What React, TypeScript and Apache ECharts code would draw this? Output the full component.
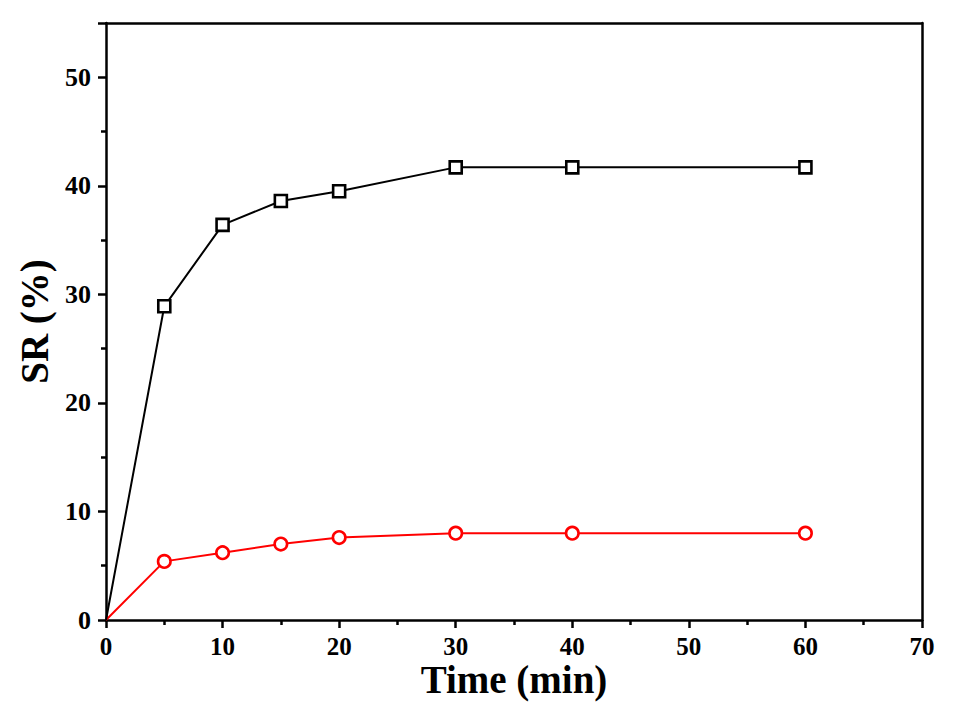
import React, { useEffect, useRef } from "react";
import * as echarts from "echarts";

const timeMin = [0, 5, 10, 15, 20, 30, 40, 60];
const seriesBlack = [0, 28.9, 36.4, 38.6, 39.5, 41.7, 41.7, 41.7];
const seriesRed = [0, 5.4, 6.2, 7.0, 7.6, 8.0, 8.0, 8.0];
const xTicks = [0, 10, 20, 30, 40, 50, 60, 70];
const yTicks = [0, 10, 20, 30, 40, 50];

const FONT = "'Liberation Serif', 'Times New Roman', serif";

export default function App() {
  const ref = useRef<HTMLDivElement>(null);
  useEffect(() => {
    if (!ref.current) return;
    const chart = echarts.init(ref.current, null, { renderer: "svg" });
    const axisLabel = {
      fontFamily: FONT,
      fontWeight: "bold" as const,
      fontSize: 26,
      color: "#000",
    };
    const toData = (vals: number[]) =>
      timeMin.map((t, i) =>
        i === 0 ? { value: [t, vals[i]], symbol: "none" } : { value: [t, vals[i]] }
      );
    chart.setOption({
      animation: false,
      backgroundColor: "#fff",
      grid: { left: 106, right: 33, top: 23, bottom: 95, containLabel: false },
      xAxis: [
        {
          type: "value",
          min: xTicks[0],
          max: xTicks[xTicks.length - 1],
          interval: 10,
          name: "Time (min)",
          nameLocation: "middle",
          nameGap: 44,
          nameMoveOverlap: false,
          nameTextStyle: { fontFamily: FONT, fontWeight: "bold", fontSize: 39, lineHeight: 30, color: "#000" },
          axisLine: { show: true, onZero: false, lineStyle: { color: "#000", width: 2.5 } },
          axisTick: { show: true, inside: false, length: 8, lineStyle: { color: "#000", width: 2.5 } },
          minorTick: { show: true, splitNumber: 2, length: 5, lineStyle: { color: "#000", width: 2.5 } },
          axisLabel: { ...axisLabel, fontSize: 25, lineHeight: 22, margin: 15 },
          splitLine: { show: false },
        },
        {
          type: "value",
          position: "top",
          min: 0,
          max: 70,
          axisLine: { show: true, onZero: false, lineStyle: { color: "#000", width: 2.5 } },
          axisTick: { show: false },
          axisLabel: { show: false },
          splitLine: { show: false },
        },
      ],
      yAxis: [
        {
          type: "value",
          min: 0,
          max: 55,
          interval: 10,
          name: "SR (%)",
          nameLocation: "middle",
          nameGap: 52,
          nameMoveOverlap: false,
          nameTextStyle: { fontFamily: FONT, fontWeight: "bold", fontSize: 39, color: "#000" },
          axisLine: { show: true, onZero: false, lineStyle: { color: "#000", width: 2.5 } },
          axisTick: { show: true, inside: false, length: 8, lineStyle: { color: "#000", width: 2.5 } },
          minorTick: { show: true, splitNumber: 2, length: 5, lineStyle: { color: "#000", width: 2.5 } },
          axisLabel: {
            ...axisLabel,
            margin: 15,
            formatter: (v: number) => (yTicks.includes(v) ? String(v) : ""),
          },
          splitLine: { show: false },
        },
        {
          type: "value",
          position: "right",
          min: 0,
          max: 55,
          axisLine: { show: true, onZero: false, lineStyle: { color: "#000", width: 2.5 } },
          axisTick: { show: false },
          axisLabel: { show: false },
          splitLine: { show: false },
        },
      ],
      series: [
        {
          type: "line",
          data: toData(seriesBlack),
          symbol: "rect",
          symbolSize: 12,
          lineStyle: { color: "#000", width: 2 },
          itemStyle: { color: "#fff", borderColor: "#000", borderWidth: 2.6 },
          z: 3,
        },
        {
          type: "line",
          data: toData(seriesRed),
          symbol: "circle",
          symbolSize: 12.5,
          lineStyle: { color: "#ff0000", width: 2 },
          itemStyle: { color: "#fff", borderColor: "#ff0000", borderWidth: 2.6 },
          z: 2,
        },
      ],
    });
    return () => chart.dispose();
  }, []);
  return (
    <div
      ref={ref}
      style={{ position: "fixed", left: 0, top: 0, width: 955, height: 715 }}
    />
  );
}
